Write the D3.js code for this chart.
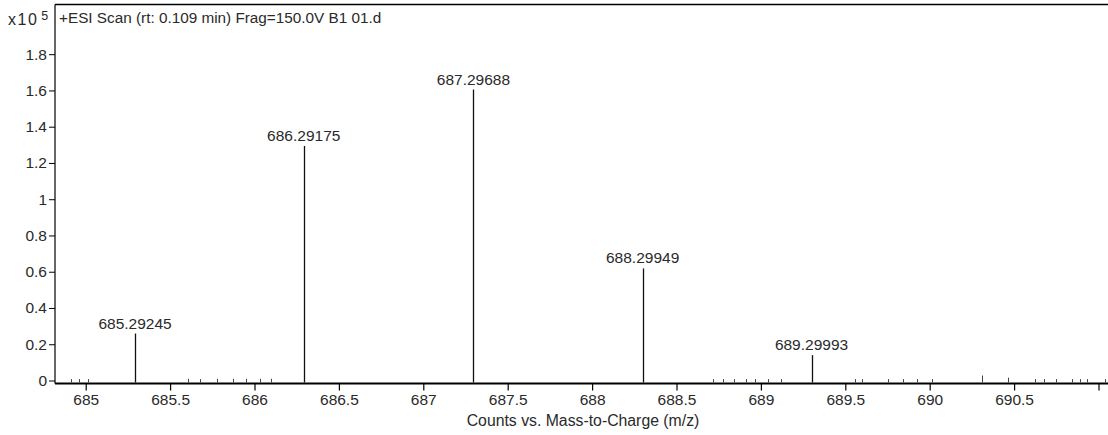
<!DOCTYPE html>
<html>
<head>
<meta charset="utf-8">
<script src="https://cdn.jsdelivr.net/npm/d3@7"></script>
<style>
  html, body { margin: 0; padding: 0; background: #fff; }
  svg { display: block; }
  text { font-family: "Liberation Sans", Arial, sans-serif; fill: #2a2a2a; }
</style>
</head>
<body>
<svg id="chart" width="1108" height="435"></svg>
<script>
// ---- data ----
const peakMz     = [685.29245, 686.29175, 687.29688, 688.29949, 689.29993];
const peakCounts = [0.259, 1.294, 1.605, 0.618, 0.140];          // x10^5
const peakLabels = ["685.29245", "686.29175", "687.29688", "688.29949", "689.29993"];

const noiseMz     = [684.913, 684.960, 685.012, 685.604, 685.679, 685.778, 685.871, 685.948, 686.031, 686.100,
                     688.714, 688.776, 688.842, 688.912, 688.965, 689.044, 689.117,
                     689.557, 689.597, 689.751, 689.844, 689.923, 690.012,
                     690.312, 690.466, 690.624, 690.677, 690.748, 690.841, 690.890, 690.930, 691.040];
const noiseCounts = [0.002, 0.002, 0.002, 0.004, 0.002, 0.004, 0.004, 0.004, 0.004, 0.004,
                     0.002, 0.002, 0.002, 0.002, 0.002, 0.002, 0.002,
                     0.002, 0.002, 0.002, 0.002, 0.002, 0.002,
                     0.022, 0.010, 0.002, 0.002, 0.002, 0.002, 0.002, 0.002, 0.002];

const xTicks      = [685, 685.5, 686, 686.5, 687, 687.5, 688, 688.5, 689, 689.5, 690, 690.5, 691];
const xTickLabels = ["685", "685.5", "686", "686.5", "687", "687.5", "688", "688.5", "689", "689.5", "690", "690.5", ""];
const yTicks      = [0, 0.2, 0.4, 0.6, 0.8, 1, 1.2, 1.4, 1.6, 1.8];
const yTickLabels = ["0", "0.2", "0.4", "0.6", "0.8", "1", "1.2", "1.4", "1.6", "1.8"];

const titleText  = "+ESI Scan (rt: 0.109 min) Frag=150.0V B1 01.d";
const xAxisTitle = "Counts vs. Mass-to-Charge (m/z)";

// ---- layout ----
const svg = d3.select("#chart");
const leftX = 55, rightX = 1108, topY = 4.5, zeroY = 380.5, axisY = 383.5;
const FS = "15.5px";

const x = d3.scaleLinear().domain([684.8181, 691.0563]).range([leftX, rightX]);
const y = d3.scaleLinear().domain([0, 2.074]).range([zeroY, topY]);

// frame: top
svg.append("line").attr("x1", leftX).attr("x2", rightX).attr("y1", topY).attr("y2", topY)
  .attr("stroke", "#000").attr("stroke-width", 1.5);

// y axis
const yAxis = d3.axisLeft(y).tickValues(yTicks)
  .tickFormat((d, i) => yTickLabels[i]).tickSize(6).tickPadding(2);
const gy = svg.append("g").attr("transform", `translate(${leftX},0)`).call(yAxis);
gy.select(".domain").attr("d", `M0,${topY}V${axisY}`).attr("stroke", "#000").attr("stroke-width", 1.2);
gy.selectAll(".tick line").attr("stroke", "#000");
gy.selectAll(".tick text").style("font-size", FS).attr("fill", "#333")
  .style("font-family", "'Liberation Sans', Arial, sans-serif");

// x axis
const xAxis = d3.axisBottom(x).tickValues(xTicks)
  .tickFormat((d, i) => xTickLabels[i]).tickSize(7).tickPadding(3);
const gx = svg.append("g").attr("transform", `translate(0,${axisY})`).call(xAxis);
gx.select(".domain").attr("d", `M${leftX},0H${rightX}`).attr("stroke", "#000").attr("stroke-width", 2.2);
gx.selectAll(".tick line").attr("stroke", "#000").attr("stroke-width", 1.2);
gx.selectAll(".tick text").style("font-size", FS).attr("fill", "#333")
  .style("font-family", "'Liberation Sans', Arial, sans-serif");

// noise sticks
svg.append("g").selectAll("line").data(noiseMz).join("line")
  .attr("x1", d => Math.round(x(d)) + 0.5).attr("x2", d => Math.round(x(d)) + 0.5)
  .attr("y1", axisY - 1)
  .attr("y2", (d, i) => y(noiseCounts[i]) - 1)
  .attr("stroke", "#444").attr("stroke-width", 1);

// peaks
svg.append("g").selectAll("line").data(peakMz).join("line")
  .attr("x1", d => Math.round(x(d)) + 0.5).attr("x2", d => Math.round(x(d)) + 0.5)
  .attr("y1", axisY - 1)
  .attr("y2", (d, i) => y(peakCounts[i]))
  .attr("stroke", "#111").attr("stroke-width", 1.3);

// peak labels
svg.append("g").selectAll("text").data(peakMz).join("text")
  .attr("x", d => x(d))
  .attr("y", (d, i) => y(peakCounts[i]) - 5)
  .attr("text-anchor", "middle")
  .style("font-size", FS)
  .text((d, i) => peakLabels[i]);

// title
svg.append("text").attr("x", 59).attr("y", 23).style("font-size", "15.3px").text(titleText);

// multiplier
const mult = svg.append("text").attr("x", 8).attr("y", 25).style("font-size", "16px");
mult.append("tspan").style("letter-spacing", "1.5px").text("x10");
mult.append("tspan").attr("dx", 3).attr("dy", -5).style("font-size", "12.5px").text("5");

// x axis title
svg.append("text").attr("x", 583).attr("y", 426).attr("text-anchor", "middle")
  .style("font-size", "15.8px").text(xAxisTitle);
</script>
</body>
</html>
